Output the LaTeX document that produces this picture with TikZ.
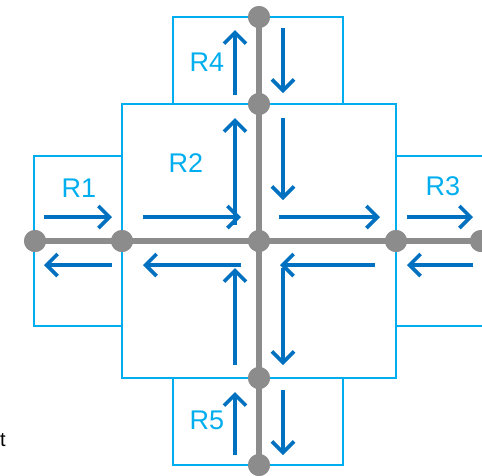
\documentclass[tikz,border=0pt]{standalone}
\usepackage{fontspec}
\setmainfont{Liberation Sans}
\usetikzlibrary{arrows.meta}
\definecolor{boxblue}{HTML}{00AEEF}
\definecolor{arrblue}{HTML}{0070C0}
\definecolor{roadgray}{HTML}{8C8C8C}
\begin{document}
\begin{tikzpicture}[x=1pt,y=-1pt,
  region/.style={draw=boxblue,line width=2.2pt},
  road/.style={draw=roadgray,line width=6pt},
  junction/.style={circle,fill=roadgray,minimum size=22pt,inner sep=0pt},
  flow/.style={draw=arrblue,line width=3.8pt,-{Straight Barb[length=11pt,width=22pt,line width=3.6pt]}},
  lbl/.style={text=boxblue,font=\fontsize{27}{27}\selectfont,inner sep=0pt}]
\useasboundingbox (0,0) rectangle (482,475);
\begin{scope}
\clip (0,0) rectangle (482,475);
% regions
\draw[region] (173,17) rectangle (343,104);
\draw[region] (122,104) rectangle (396,378);
\draw[region] (34,156) rectangle (122,326);
\draw[region] (396,156) rectangle (500,326);
\draw[region] (173,378) rectangle (343,465);
% junctions
\node[junction] (w) at (35,241) {};
\node[junction] (a) at (122,241) {};
\node[junction] (c) at (259,241) {};
\node[junction] (b) at (396,241) {};
\node[junction] (e) at (481,241) {};
\node[junction] (n2) at (259,17) {};
\node[junction] (n1) at (259,104) {};
\node[junction] (s1) at (259,378) {};
\node[junction] (s2) at (259,465) {};
\draw[road] (w.center) -- (e.center);
\draw[road] (n2.center) -- (s2.center);
\foreach \n in {w,a,c,b,e,n2,n1,s1,s2} \fill[roadgray] (\n) circle (11pt);
% coordinates for flows
\coordinate (r1a) at (44,217); \coordinate (r1b) at (112,217);
\coordinate (r1c) at (112,265); \coordinate (r1d) at (44,265);
\coordinate (r2a) at (143,217); \coordinate (r2b) at (241,217);
\coordinate (r2c) at (241,265); \coordinate (r2d) at (143,265);
\coordinate (r2e) at (279,217); \coordinate (r2f) at (380,217);
\coordinate (r2g) at (375,265); \coordinate (r2h) at (280,265);
\coordinate (r3a) at (407,217); \coordinate (r3b) at (473,217);
\coordinate (r3c) at (473,265); \coordinate (r3d) at (407,265);
\coordinate (r4a) at (235,95); \coordinate (r4b) at (235,30);
\coordinate (r4c) at (283,28); \coordinate (r4d) at (283,93);
\coordinate (r2i) at (235,225); \coordinate (r2j) at (235,118);
\coordinate (r2k) at (283,118); \coordinate (r2l) at (283,200);
\coordinate (r2m) at (235,365); \coordinate (r2n) at (235,268);
\coordinate (r2o) at (283,268); \coordinate (r2p) at (283,365);
\coordinate (r5a) at (235,455); \coordinate (r5b) at (235,392);
\coordinate (r5c) at (283,390); \coordinate (r5d) at (283,455);
\foreach \s/\t in {r1a/r1b,r1c/r1d,r2a/r2b,r2c/r2d,r2e/r2f,r2g/r2h,r3a/r3b,r3c/r3d,r4a/r4b,r4c/r4d,r2i/r2j,r2k/r2l,r2m/r2n,r2o/r2p,r5a/r5b,r5c/r5d}
  \draw[flow] (\s) -- (\t);
\end{scope}
% labels
\node[lbl] (l4) at (207,62) {R4};
\node[lbl] (l2) at (186,163) {R2};
\node[lbl] (l1) at (79,188) {R1};
\node[lbl] (l3) at (443,186) {R3};
\node[lbl] (l5) at (207,420) {R5};
\node[anchor=west,inner sep=0pt,font=\fontsize{20}{20}\selectfont] (t) at (0,440) {t};
\end{tikzpicture}
\end{document}
